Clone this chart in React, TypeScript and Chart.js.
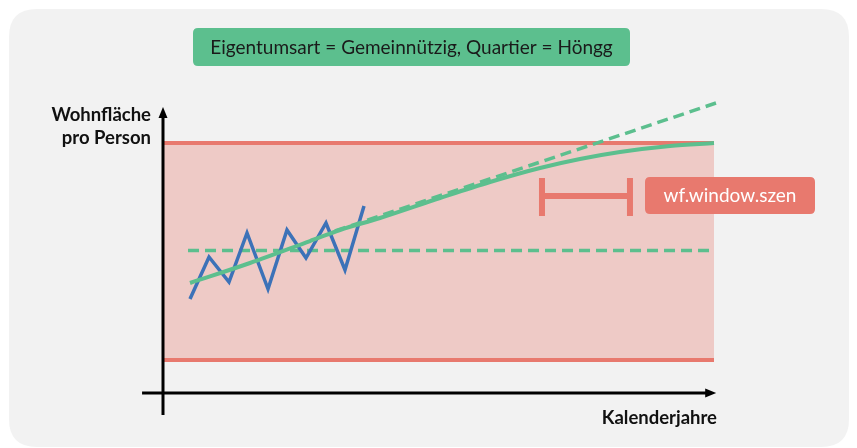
import React, { useEffect, useRef } from "react";
import { Chart, registerables } from "chart.js";

Chart.register(...registerables);

// ---- data (schematic units: x = time 0..100, y = living area 0..100) ----
const OBS_X = [4.9, 8.35, 11.98, 15.25, 19.06, 22.5, 25.95, 29.58, 33.03, 36.48];
const OBS_Y = [32.41, 46.9, 38.28, 55.17, 35.86, 56.21, 46.55, 58.62, 42.41, 64.48];

const TREND_X = [4.9, 15.79, 26.68, 32.12, 39.38, 50.27, 59.35, 68.42, 75.68, 82.94, 92.01, 100];
const TREND_Y = [37.93, 44.83, 52.41, 56.21, 60.34, 67.24, 72.76, 77.59, 80.69, 83.1, 85.17, 86.21];

const LINEAR_X = [31.22, 100.36];
const LINEAR_Y = [55.86, 100];

const MEAN_X = [4.54, 99.64];
const MEAN_Y = [49.14, 49.14];

const BAND_X = [0, 100];
const BAND_LOW = 11.38;
const BAND_HIGH = 86.21;

const WINDOW_X = [68.78, 84.75];
const WINDOW_Y_TOP = 74.14;
const WINDOW_Y_BOTTOM = 61.03;
const WINDOW_Y_MID = 67.93;

const TITLE = "Eigentumsart = Gemeinnützig, Quartier = Höngg";
const Y_LABEL = ["Wohnfläche", "pro Person"];
const X_LABEL = "Kalenderjahre";
const WINDOW_LABEL = "wf.window.szen";

const GREEN = "#5cbf8e";
const BLUE = "#3c72b8";
const RED = "#e8796e";
const BAND_FILL = "#eecac6";

const pts = (xs: number[], ys: number[]) => xs.map((x, i) => ({ x, y: ys[i] }));

function roundRect(ctx: CanvasRenderingContext2D, x: number, y: number, w: number, h: number, r: number) {
  ctx.beginPath();
  ctx.moveTo(x + r, y);
  ctx.lineTo(x + w - r, y);
  ctx.quadraticCurveTo(x + w, y, x + w, y + r);
  ctx.lineTo(x + w, y + h - r);
  ctx.quadraticCurveTo(x + w, y + h, x + w - r, y + h);
  ctx.lineTo(x + r, y + h);
  ctx.quadraticCurveTo(x, y + h, x, y + h - r);
  ctx.lineTo(x, y + r);
  ctx.quadraticCurveTo(x, y, x + r, y);
  ctx.closePath();
}

const decor = {
  id: "decor",
  beforeDraw(chart: any) {
    const ctx = chart.ctx as CanvasRenderingContext2D;
    ctx.save();
    ctx.fillStyle = "#ffffff";
    ctx.fillRect(0, 0, chart.width, chart.height);
    ctx.fillStyle = "#f2f2f2";
    roundRect(ctx, 9, 9, 840, 438, 28);
    ctx.fill();
    // title box
    ctx.fillStyle = GREEN;
    roundRect(ctx, 193, 28, 437, 38, 5);
    ctx.fill();
    ctx.fillStyle = "#1a1a1a";
    ctx.font = "19px Lato";
    ctx.textAlign = "center";
    ctx.textBaseline = "middle";
    ctx.fillText(TITLE, 411.5, 47.5, 404);
    ctx.restore();
  },
  afterDatasetsDraw(chart: any) {
    const ctx = chart.ctx as CanvasRenderingContext2D;
    const xs = chart.scales.x;
    const ys = chart.scales.y;
    const x0 = xs.getPixelForValue(0);
    const y0 = ys.getPixelForValue(0);
    ctx.save();
    ctx.strokeStyle = "#000";
    ctx.fillStyle = "#000";
    ctx.lineWidth = 3;
    // y axis
    const yTop = ys.getPixelForValue(98.6);
    ctx.beginPath();
    ctx.moveTo(x0, ys.getPixelForValue(-7.6));
    ctx.lineTo(x0, yTop + 8);
    ctx.stroke();
    ctx.beginPath();
    ctx.moveTo(x0, yTop);
    ctx.lineTo(x0 - 4.5, yTop + 11);
    ctx.lineTo(x0 + 4.5, yTop + 11);
    ctx.closePath();
    ctx.fill();
    // x axis
    const xEnd = xs.getPixelForValue(100.4);
    ctx.beginPath();
    ctx.moveTo(xs.getPixelForValue(-3.8), y0);
    ctx.lineTo(xEnd - 8, y0);
    ctx.stroke();
    ctx.beginPath();
    ctx.moveTo(xEnd, y0);
    ctx.lineTo(xEnd - 11, y0 - 4.5);
    ctx.lineTo(xEnd - 11, y0 + 4.5);
    ctx.closePath();
    ctx.fill();
    // axis labels
    ctx.fillStyle = "#111";
    ctx.font = "bold 18.5px Lato";
    ctx.textAlign = "right";
    ctx.textBaseline = "alphabetic";
    ctx.fillText(Y_LABEL[0], 151, 121);
    ctx.fillText(Y_LABEL[1], 151, 144);
    ctx.fillText(X_LABEL, 717, 424);
    // window label box
    ctx.fillStyle = RED;
    roundRect(ctx, 645, 177, 170, 37, 5);
    ctx.fill();
    ctx.fillStyle = "#ffffff";
    ctx.font = "19px Lato";
    ctx.textAlign = "center";
    ctx.textBaseline = "middle";
    ctx.fillText(WINDOW_LABEL, 730, 196);
    ctx.restore();
  },
};

export default function App() {
  const ref = useRef<HTMLCanvasElement | null>(null);
  useEffect(() => {
    if (!ref.current) return;
    const chart = new Chart(ref.current, {
      type: "line",
      data: {
        datasets: [
          {
            data: pts(BAND_X, [BAND_LOW, BAND_LOW]),
            borderColor: RED,
            borderWidth: 4,
            order: 9,
          },
          {
            data: pts(BAND_X, [BAND_HIGH, BAND_HIGH]),
            borderColor: RED,
            borderWidth: 4,
            backgroundColor: BAND_FILL,
            fill: { value: BAND_LOW },
            order: 10,
          },
          {
            data: [
              { x: WINDOW_X[0], y: WINDOW_Y_TOP },
              { x: WINDOW_X[0], y: WINDOW_Y_BOTTOM },
              { x: NaN, y: NaN },
              { x: WINDOW_X[0], y: WINDOW_Y_MID },
              { x: WINDOW_X[1], y: WINDOW_Y_MID },
              { x: NaN, y: NaN },
              { x: WINDOW_X[1], y: WINDOW_Y_TOP },
              { x: WINDOW_X[1], y: WINDOW_Y_BOTTOM },
            ],
            borderColor: RED,
            borderWidth: 6,
            borderCapStyle: "butt",
            spanGaps: false,
            order: 8,
          },
          {
            data: pts(MEAN_X, MEAN_Y),
            borderColor: GREEN,
            borderWidth: 3.5,
            borderDash: [11, 6],
            order: 5,
          },
          {
            data: pts(OBS_X, OBS_Y),
            borderColor: BLUE,
            borderWidth: 3.5,
            order: 4,
          },
          {
            data: pts(LINEAR_X, LINEAR_Y),
            borderColor: GREEN,
            borderWidth: 3.5,
            borderDash: [11, 6],
            order: 3,
          },
          {
            data: pts(TREND_X, TREND_Y),
            borderColor: GREEN,
            borderWidth: 4,
            cubicInterpolationMode: "monotone",
            order: 2,
          },
        ],
      } as any,
      options: {
        responsive: false,
        devicePixelRatio: 1,
        animation: false,
        layout: { padding: { left: 163, right: 143, top: 103, bottom: 55 } },
        elements: { point: { radius: 0, hoverRadius: 0 }, line: { fill: false } },
        datasets: { line: { clip: false } as any },
        scales: {
          x: { type: "linear", min: 0, max: 100, display: false },
          y: { type: "linear", min: 0, max: 100, display: false },
        },
        plugins: { legend: { display: false }, tooltip: { enabled: false } },
        events: [],
      } as any,
      plugins: [decor],
    });
    return () => chart.destroy();
  }, []);
  return (
    <div style={{ position: "absolute", left: 0, top: 0, width: 857, height: 448 }}>
      <canvas ref={ref} width={857} height={448} style={{ display: "block" }} />
    </div>
  );
}
